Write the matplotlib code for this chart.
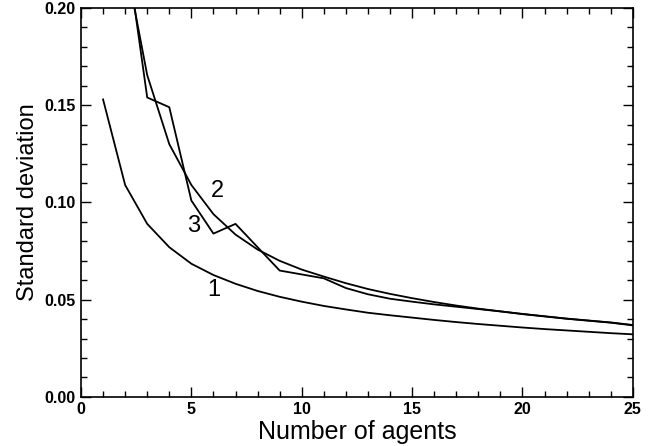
import matplotlib
matplotlib.use("Agg")
import matplotlib.pyplot as plt
from matplotlib.ticker import MultipleLocator, FormatStrFormatter

# values
n1 = list(range(1, 26))
sd1 = [0.153, 0.109, 0.089, 0.077, 0.0685, 0.0627, 0.0582, 0.0545, 0.0515, 0.0490,
       0.0468, 0.0450, 0.0433, 0.0420, 0.0408, 0.0396, 0.0385, 0.0375, 0.0366, 0.0357,
       0.0349, 0.0342, 0.0335, 0.0328, 0.0322]

n2 = list(range(2, 26))
sd2 = [0.225, 0.1655, 0.130, 0.109, 0.094, 0.0835, 0.0758, 0.0700, 0.0655, 0.0619,
       0.0585, 0.0555, 0.0530, 0.0508, 0.0488, 0.0470, 0.0454, 0.0440, 0.0427, 0.0415,
       0.0403, 0.0393, 0.0383, 0.0370]

n3 = list(range(2, 26))
sd3 = [0.235, 0.154, 0.149, 0.101, 0.084, 0.089, 0.077, 0.065, 0.063, 0.061,
       0.0560, 0.0528, 0.0505, 0.0490, 0.0476, 0.0464, 0.0452, 0.0440, 0.0426, 0.0414,
       0.0402, 0.0392, 0.0382, 0.0368]

curve_labels = ["1", "2", "3"]
label_pos = [(6.0, 0.055), (6.2, 0.106), (5.1, 0.088)]

plt.rcParams['font.family'] = ['Liberation Sans', 'DejaVu Sans']

fig = plt.figure(figsize=(6.5, 4.46), dpi=100)
ax = fig.add_axes([0.1246, 0.11, 0.849, 0.872])

for x, y in [(n1, sd1), (n2, sd2), (n3, sd3)]:
    ax.plot(x, y, color="black", lw=1.3)

for lab, (x, y) in zip(curve_labels, label_pos):
    ax.text(x, y, lab, fontsize=17, ha="center", va="center")

ax.set_xlim(0, 25)
ax.set_ylim(0, 0.20)
ax.xaxis.set_major_locator(MultipleLocator(5))
ax.xaxis.set_minor_locator(MultipleLocator(1))
ax.yaxis.set_major_locator(MultipleLocator(0.05))
ax.yaxis.set_minor_locator(MultipleLocator(0.01))
ax.yaxis.set_major_formatter(FormatStrFormatter("%.2f"))
ax.tick_params(which="both", direction="in", top=True, right=True, width=1)
ax.tick_params(which="major", length=7, labelsize=11.5, pad=4)
ax.tick_params(which="minor", length=4)
for lab in ax.get_xticklabels() + ax.get_yticklabels():
    lab.set_fontweight("bold")
for s in ax.spines.values():
    s.set_linewidth(1.2)

ax.set_xlabel("Number of agents", fontsize=18, labelpad=2)
ax.set_ylabel("Standard deviation", fontsize=17, labelpad=4)

fig.savefig("out.png", dpi=100)
